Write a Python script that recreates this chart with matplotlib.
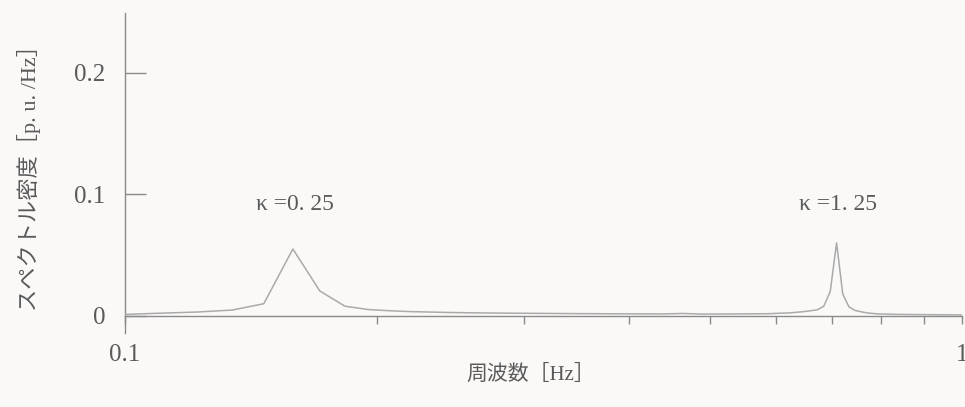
import matplotlib
matplotlib.use("Agg")
import matplotlib.pyplot as plt
from matplotlib.ticker import FixedLocator, NullFormatter

plt.rcParams['font.family'] = ['Liberation Serif', 'Noto Sans CJK JP']

# Spectral density of the output for two κ cases (frequency in Hz, density in p.u./Hz)
freq = [0.1000, 0.1099, 0.1221, 0.1343, 0.1465, 0.1587, 0.1709, 0.1831,
        0.1953, 0.2075, 0.2197, 0.2441, 0.2686, 0.2930, 0.3418, 0.3906,
        0.4395, 0.4639, 0.4883, 0.5371, 0.5859, 0.6226, 0.6470, 0.6714,
        0.6836, 0.6958, 0.7080, 0.7202, 0.7324, 0.7446, 0.7690, 0.7935,
        0.8423, 0.9155, 1.0000]
density = [0.0012, 0.0022, 0.0032, 0.0048, 0.0100, 0.0550, 0.0205, 0.0080,
           0.0052, 0.0042, 0.0035, 0.0028, 0.0024, 0.0022, 0.0019, 0.0017,
           0.0016, 0.0020, 0.0015, 0.0016, 0.0018, 0.0025, 0.0035, 0.0050,
           0.0080, 0.0200, 0.0600, 0.0180, 0.0075, 0.0045, 0.0025, 0.0016,
           0.0012, 0.0010, 0.0008]

peak_labels = ["κ =0. 25", "κ =1. 25"]
peak_freqs = [0.1596, 0.7115]
label_y = 0.0915

ytick_vals = [0, 0.1, 0.2]
ytick_text = ["0", "0.1", "0.2"]
xtick_vals = [0.1, 1]
xtick_text = ["0.1", "1"]
xminor_vals = [0.2, 0.3, 0.4, 0.5, 0.6, 0.7, 0.8, 0.9]

bg = '#fbf9f8'
text_col = '#5a5a5a'
axis_col = '#8a8a8a'
line_col = '#aaaaaa'

fig = plt.figure(figsize=(9.65, 4.07), dpi=100, facecolor=bg)
ax = fig.add_axes([0.1295, 0.182, 0.8675, 0.786], facecolor=bg)

ax.plot(freq, density, color=line_col, lw=1.1, zorder=3)

ax.set_xscale('log')
ax.set_xlim(0.1, 1.0)
ax.set_ylim(-0.014, 0.249)

for s in ['top', 'right']:
    ax.spines[s].set_visible(False)
ax.spines['bottom'].set_position(('data', 0))
ax.spines['bottom'].set_color(axis_col)
ax.spines['left'].set_color(axis_col)
ax.spines['bottom'].set_linewidth(1.0)
ax.spines['left'].set_linewidth(1.0)

ax.set_yticks(ytick_vals)
ax.set_yticklabels(ytick_text)
ax.tick_params(axis='y', direction='in', length=15, width=1.0, color=axis_col,
               pad=14, labelsize=18, labelcolor=text_col)

ax.xaxis.set_major_locator(FixedLocator(xtick_vals))
ax.set_xticklabels(xtick_text)
ax.xaxis.set_minor_locator(FixedLocator(xminor_vals))
ax.xaxis.set_minor_formatter(NullFormatter())
ax.tick_params(axis='x', which='major', direction='out', length=6, width=1.0,
               color=axis_col, pad=14, labelsize=18, labelcolor=text_col)
ax.tick_params(axis='x', which='minor', direction='out', length=6, width=1.0,
               color=axis_col)

for lab, fx in zip(peak_labels, peak_freqs):
    ax.text(fx, label_y, lab, ha='center', va='center', fontsize=17,
            color=text_col)

fig.text(0.55, 0.078, "周波数［Hz］", ha='center', va='center', fontsize=15,
         color=text_col)
fig.text(0.030, 0.575, "スペクトル密度［p. u. /Hz］", ha='center', va='center',
         rotation=90, fontsize=16, color=text_col)

fig.savefig("out.png", dpi=100, facecolor=bg)
